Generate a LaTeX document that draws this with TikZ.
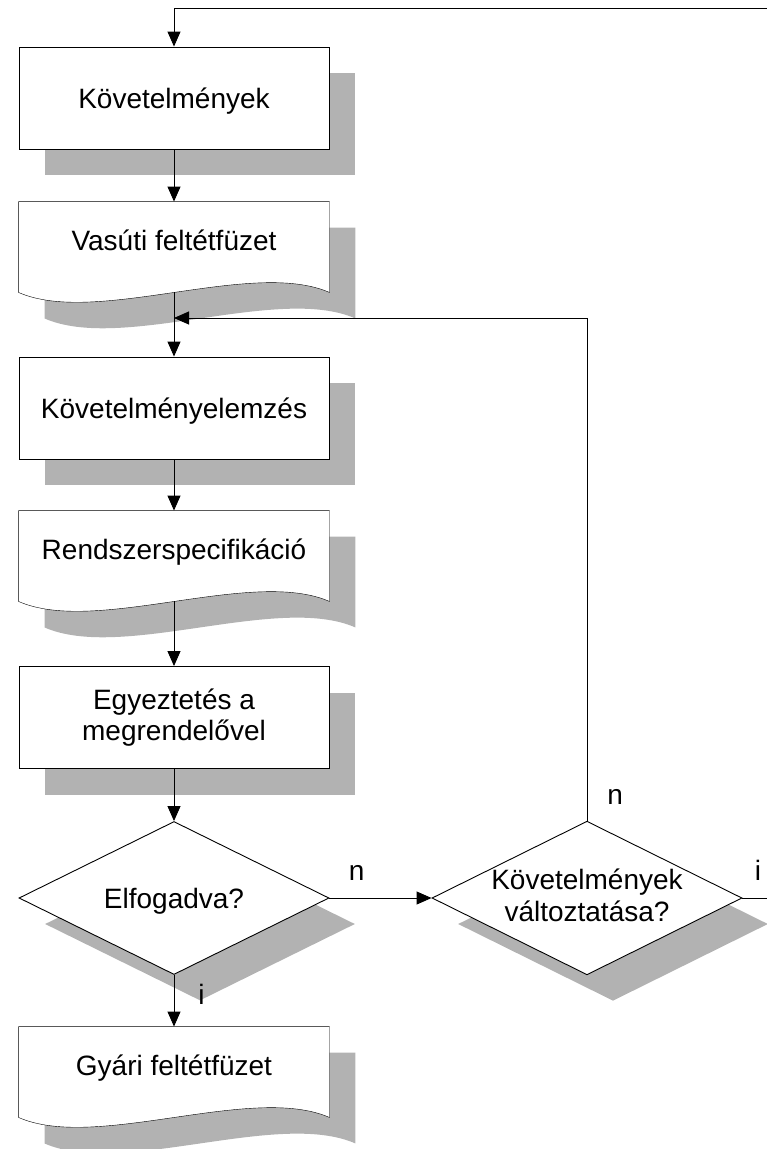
\documentclass[tikz,border=0pt]{standalone}
\usepackage{fontspec}
\setmainfont{Liberation Sans}
\usetikzlibrary{shapes.geometric,arrows.meta,shadows,backgrounds}
\definecolor{shadowgray}{gray}{0.7}
\newcommand\fs{\fontsize{28}{31.5}\selectfont}
% outline of a document node (wavy bottom)
\newcommand\docpath[1]{(#1.north west) -- (#1.north east) -- (#1.south east) .. controls +(-77.5,-34) and +(77.5,34) .. (#1.south west) -- cycle}
\tikzset{
  flow/.style={draw, fill=white, minimum width=310pt, inner sep=0pt, align=center, font=\fs},
  onerow/.style={text height=20pt, text depth=0pt},
  boxshadow/.style={drop shadow={shadow xshift=26pt, shadow yshift=-26pt, opacity=1, fill=shadowgray}},
  box/.style={flow, rectangle, minimum height=102pt, boxshadow},
  docbox/.style={rectangle, minimum width=310pt, minimum height=90pt, inner sep=0pt, font=\fs, text height=20pt, text depth=14pt},
  decision/.style={flow, diamond, aspect=2, minimum height=153pt, boxshadow},
  lbl/.style={anchor=base west, inner sep=0pt, font=\fs},
  arr/.style={-{Triangle[length=15pt,width=13pt]}},
}
\begin{document}
\begin{tikzpicture}[x=1pt, y=-1pt, line width=0.9pt]
\useasboundingbox (0,0) rectangle (767,1149);
% main column
\node[box, onerow] (k1) at (174,98) {Követelmények};
\node[docbox] (d2) at (174,247) {Vasúti feltétfüzet};
\node[box, onerow] (k3) at (174,408) {Követelményelemzés};
\node[docbox] (d4) at (174,556) {Rendszerspecifikáció};
\node[box] (k5) at (174,717.5) {Egyeztetés a\\megrendelővel};
\node[decision, onerow] (e6) at (174,898) {Elfogadva?};
\node[docbox] (d7) at (174,1072) {Gyári feltétfüzet};
% second decision
\node[decision] (k8) at (587,898) {Követelmények\\változtatása?\vphantom{g}};
% documents with shadows
\begin{scope}[on background layer]
  \foreach \n in {d2,d4,d7} {
    \fill[shadowgray, transform canvas={shift={(26,26)}}] \docpath{\n};
    \filldraw[fill=white] \docpath{\n};
  }
\end{scope}
% connectors
\coordinate (topR) at (767,8);
\coordinate (join) at (174,318);
\coordinate (rightR) at (767,898);
\draw[arr] (topR) -| (k1.north);
\draw[arr] (k1.south) -- (d2.north);
\draw[arr] (d2.south) -- (k3.north);
\draw[arr] (k3.south) -- (d4.north);
\draw[arr] (d4.south) -- (k5.north);
\draw[arr] (k5.south) -- (e6.north);
\draw[arr] (e6.south) -- (d7.north) node[lbl, pos=0, xshift=24pt, yshift=-30pt] {i};
\draw[arr] (e6.east) -- (k8.west) node[lbl, pos=0, xshift=19pt, yshift=18pt] {n};
\draw[arr] (k8.north) |- (join) node[lbl, pos=0, xshift=20pt, yshift=16pt] {n};
\draw (k8.east) -- (rightR) node[lbl, pos=0, xshift=12pt, yshift=18pt] {i};
\end{tikzpicture}
\end{document}
